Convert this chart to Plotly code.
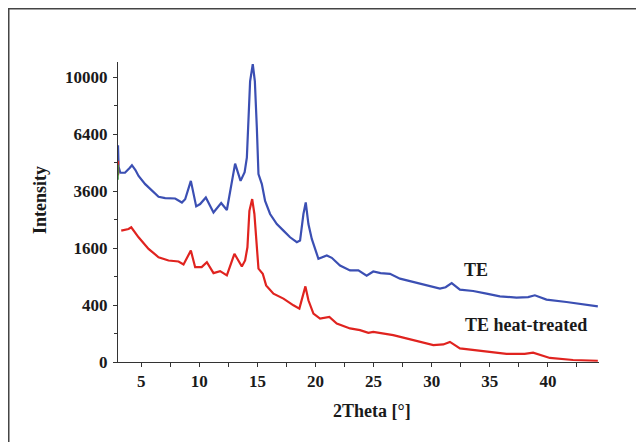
import numpy as np
import plotly.graph_objects as go

# ---- data (2Theta in degrees, intensity in counts) ----
te_x = [3.0, 3.05, 3.2, 3.6, 4.0, 4.2, 4.5, 4.77, 5.34, 5.92, 6.49, 7.06, 7.92, 8.5, 8.78,
        9.27, 9.73, 10.07, 10.56, 11.22, 11.88, 12.37, 13.08, 13.55, 13.9, 14.09, 14.23,
        14.37, 14.6, 14.78, 14.95, 15.09, 15.38, 15.66, 16.09, 16.67, 17.24, 17.81, 18.39,
        18.67, 18.96, 19.16, 19.39, 19.68, 20.25, 20.97, 21.4, 22.11, 22.97, 23.69, 24.4,
        24.97, 25.6, 26.41, 27.27, 28.42, 29.57, 30.71, 31.2, 31.72, 32.43, 33.57, 34.72,
        35.87, 37.3, 38.3, 38.88, 39.88, 41.6, 43.3, 44.3]
te_y = [5800, 4700, 4420, 4420, 4650, 4780, 4550, 4275, 3905, 3616, 3369, 3316, 3300, 3140, 3270,
        4050, 2990, 3080, 3340, 2760, 3118, 2850, 4860, 4050, 4450, 5150, 7765,
        9720, 10955, 9720, 6770, 4355, 3905, 3205, 2704, 2350, 2130, 1920, 1770,
        1820, 2704, 3140, 2350, 1870, 1315, 1400, 1340, 1150, 1035, 1035, 920,
        1010, 975, 960, 857, 789, 725, 664, 690, 769, 646, 622, 577,
        532, 512, 520, 549, 481, 444, 411, 383]

heat_x = [3.0, 3.01, None, 3.28, 3.6, 3.91, 4.14, 4.4, 4.77, 5.63, 6.49, 7.35, 8.21, 8.64,
          9.27, 9.64, 10.2, 10.65, 11.22, 11.79, 12.37, 13.02, 13.66, 13.94, 14.14, 14.31,
          14.55, 14.74, 14.95, 15.09, 15.46, 15.75, 16.38, 17.24, 18.1, 18.61, 18.96, 19.13,
          19.39, 19.82, 20.39, 21.19, 21.83, 22.97, 23.83, 24.55, 24.97, 26.69, 28.42, 30.14,
          31.0, 31.57, 32.43, 34.72, 36.44, 38.0, 38.73, 40.17, 42.17, 44.3]
heat_y = [5000, 4300, None, 2130, 2160, 2185, 2240, 2100, 1920, 1580, 1355, 1272, 1247, 1174,
          1534, 1110, 1110, 1230, 975, 1020, 925, 1445, 1127, 1272, 1625, 2820,
          3275, 2704, 1625, 1075, 962, 725, 577, 496, 397, 352, 577, 706,
          470, 290, 233, 251, 183, 139, 125, 105, 112, 89, 59, 35,
          38, 50, 23, 13, 8, 8, 10.6, 2, 0.5, 0.2]

edge_x = [3.0, 3.01]
edge_y = [4100, 4800]

y_tick_values = [0, 400, 1600, 3600, 6400, 10000]
y_tick_labels = ["0", "400", "1600", "3600", "6400", "10000"]
x_tick_values = [5, 10, 15, 20, 25, 30, 35, 40]


def sq(vals):
    return [None if v is None else float(np.sqrt(v)) for v in vals]


fig = go.Figure()
fig.add_trace(go.Scatter(x=te_x, y=sq(te_y), mode="lines",
                         line=dict(color="#3b4fb3", width=2.2), name="TE"))
fig.add_trace(go.Scatter(x=heat_x, y=sq(heat_y), mode="lines", connectgaps=False,
                         line=dict(color="#e0231f", width=2.2), name="TE heat-treated"))
fig.add_trace(go.Scatter(x=edge_x, y=sq(edge_y), mode="lines",
                         line=dict(color="#3a9a3a", width=1.5), name="edge"))

tfont = dict(family="Liberation Serif", size=17, color="#1a1a1a", weight="bold")

# page body adds an 8px offset, so the figure is 636x434 and shifted accordingly
fig.update_layout(
    width=636, height=434,
    margin=dict(l=110, r=45, t=54, b=80),
    paper_bgcolor="white", plot_bgcolor="white",
    showlegend=False,
    xaxis=dict(range=[3.0, 44.4], showgrid=False, zeroline=False,
               showline=True, linecolor="#333", linewidth=1,
               ticks="outside", ticklen=4, tickcolor="#333",
               tickvals=x_tick_values, tickfont=tfont,
               minor=dict(dtick=2.5, tick0=0, ticks="outside", ticklen=4, tickcolor="#333")),
    yaxis=dict(range=[0, 105.4], showgrid=False, zeroline=False,
               showline=True, linecolor="#333", linewidth=1,
               ticks="outside", ticklen=4, tickcolor="#333", ticklabelstandoff=2,
               tickvals=sq(y_tick_values), ticktext=y_tick_labels, tickfont=tfont,
               minor=dict(tickvals=[10, 30, 50, 70, 90], ticks="outside", ticklen=3,
                          tickcolor="#333")),
)

ann = dict(showarrow=False, xanchor="center", yanchor="middle")
fig.add_annotation(text="Intensity", xref="paper", yref="paper", x=-0.162, y=0.54,
                   textangle=-90, font=dict(tfont, size=18), **ann)
fig.add_annotation(text="2Theta [°]", xref="paper", yref="paper", x=0.528, y=-0.163,
                   font=dict(tfont, size=18), **ann)
fig.add_annotation(text="TE", x=33.8, y=32.5, font=dict(tfont, size=18), **ann)
fig.add_annotation(text="TE heat-treated", x=38.1, y=12.9, font=dict(tfont, size=18), **ann)

fig.add_shape(type="rect", xref="paper", yref="paper", x0=-0.2271, x1=1.6,
              y0=-0.6, y1=1.1775, line=dict(color="#444", width=1.5))

fig.write_html("out.html")
